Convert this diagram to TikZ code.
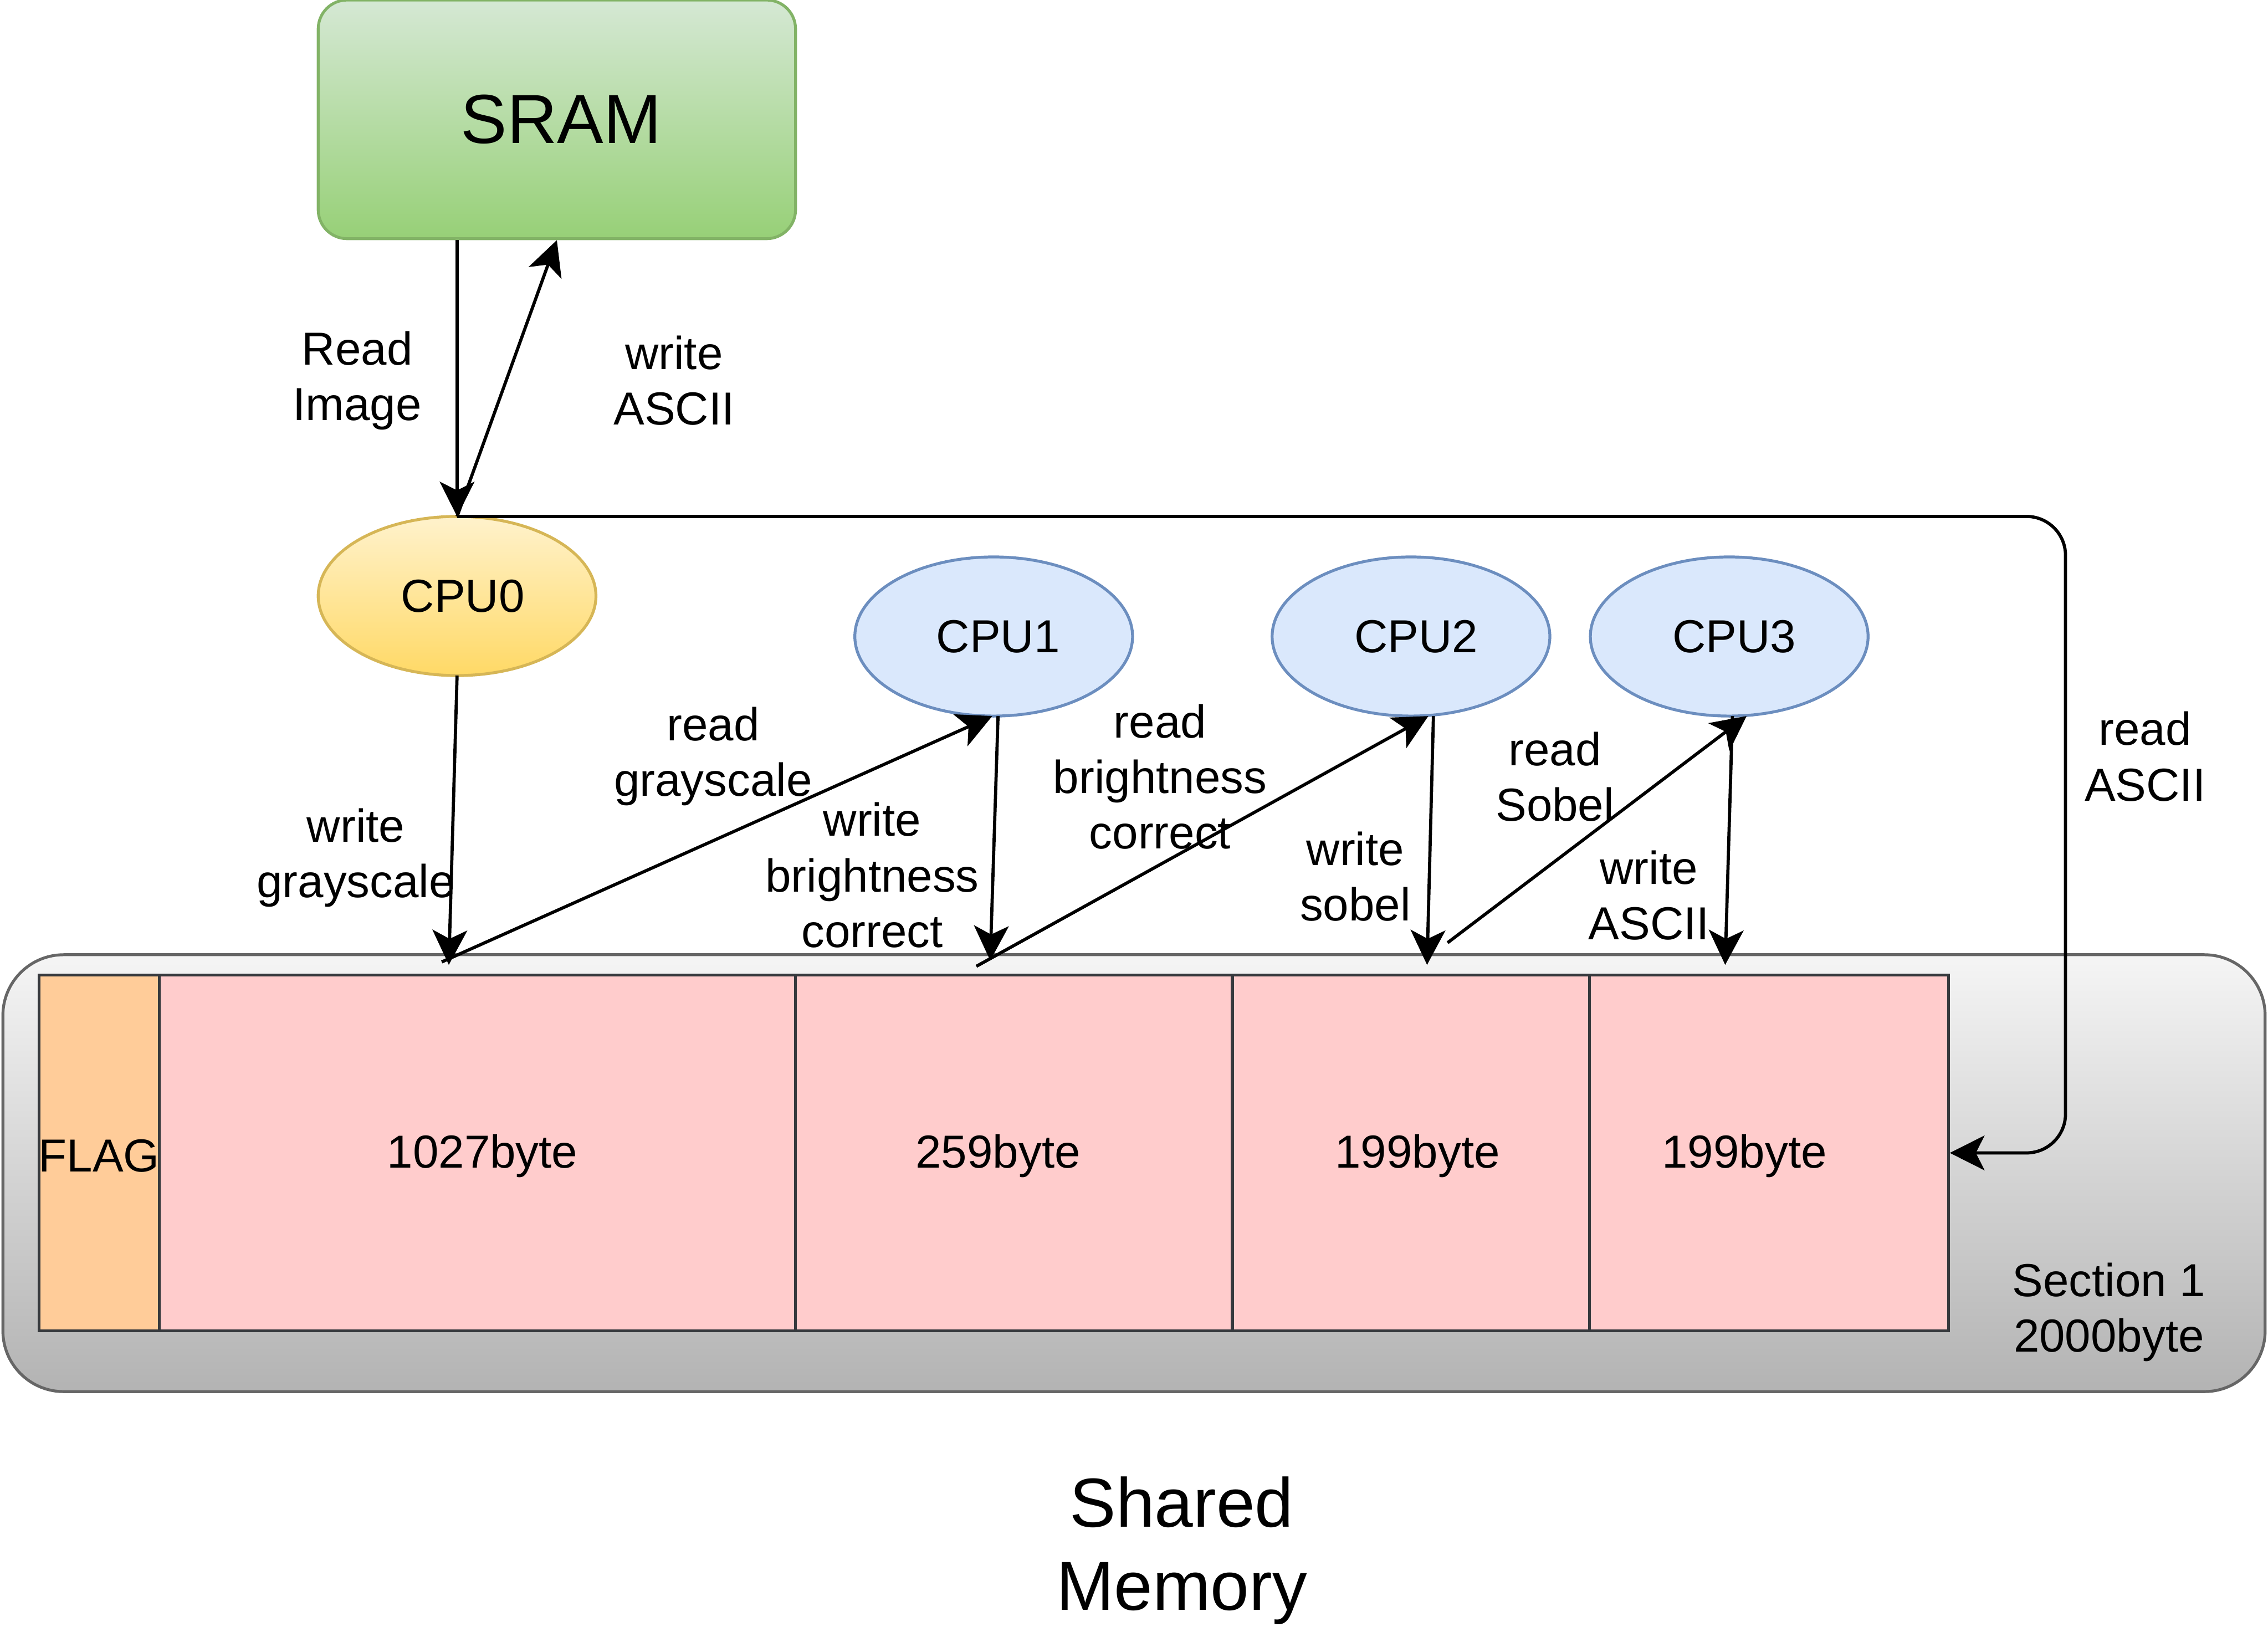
\documentclass[tikz,border=0pt]{standalone}
\usepackage{fontspec}
\setmainfont{Liberation Sans}
\usetikzlibrary{shapes.geometric,arrows.meta,calc}
\definecolor{sramtop}{HTML}{D5E8D4}
\definecolor{srambot}{HTML}{97D077}
\definecolor{sramline}{HTML}{82B366}
\definecolor{cputop}{HTML}{FFF2CC}
\definecolor{cpubot}{HTML}{FFD966}
\definecolor{cpuline}{HTML}{D6B656}
\definecolor{bluefill}{HTML}{DAE8FC}
\definecolor{blueline}{HTML}{6C8EBF}
\definecolor{memtop}{HTML}{F5F5F5}
\definecolor{membot}{HTML}{B3B3B3}
\definecolor{memline}{HTML}{666666}
\definecolor{flagfill}{HTML}{FFCC99}
\definecolor{cellfill}{HTML}{FFCCCC}
\definecolor{cellline}{HTML}{36393D}
\begin{document}
\begin{tikzpicture}[x=1pt,y=-1pt,
  lbl/.style={font=\fontsize{32}{38.4}\selectfont, align=center, inner sep=0pt},
  big/.style={font=\fontsize{48}{57.6}\selectfont, align=center, inner sep=0pt},
  arr/.style={line width=2.2pt, -{Stealth[length=24pt,width=24pt,inset=6pt]}},
  cpuell/.style={ellipse, minimum width=192pt, minimum height=110pt, inner sep=0pt, line width=2pt,
    outer sep=0pt, font=\fontsize{32}{38.4}\selectfont},
  bluecpu/.style={cpuell, draw=blueline, fill=bluefill},
  cell/.style={rectangle, draw=cellline, line width=2pt, minimum height=246pt, inner sep=0pt}
]
\useasboundingbox (0,0) rectangle (1568,1128);

% shared memory container
\node[rectangle, rounded corners=42pt, minimum width=1564pt, minimum height=302pt,
  draw=memline, line width=2pt, top color=memtop, bottom color=membot] (mem) at (784,811) {};

% cells
\node[cell, fill=flagfill, minimum width=83pt] (flag) at (68.5,797) {};
\node[cell, fill=cellfill, minimum width=440pt] (b1) at (330,797) {};
\node[cell, fill=cellfill, minimum width=302pt] (b2) at (701,797) {};
\node[cell, fill=cellfill, minimum width=247pt] (b3) at (975.5,797) {};
\node[cell, fill=cellfill, minimum width=248pt] (b4) at (1223,797) {};

\node[lbl] (tflag) at (68.5,799) {FLAG};
\node[lbl] (t1) at (333.5,799) {1027byte};
\node[lbl] (t2) at (690,799) {259byte};
\node[lbl] (t3) at (980,799) {199byte};
\node[lbl] (t4) at (1206,799) {199byte};
\node[lbl] (tsec) at (1458,907) {Section 1\\2000byte};
\node[big] (tshared) at (817,1072) {Shared\\Memory};

% SRAM
\node[rectangle, rounded corners=20pt, minimum width=330pt, minimum height=165pt,
  draw=sramline, line width=2pt, top color=sramtop, bottom color=srambot,
  font=\fontsize{48}{57.6}\selectfont] (sram) at (385,82.5) {\hspace*{6pt}SRAM};

% CPUs
\node[cpuell, draw=cpuline, top color=cputop, bottom color=cpubot] (cpu0) at (316,412) {\hspace*{8pt}CPU0};
\node[bluecpu] (cpu1) at (687,440) {\hspace*{6pt}CPU1};
\node[bluecpu] (cpu2) at (975.5,440) {\hspace*{7pt}CPU2};
\node[bluecpu] (cpu3) at (1195.5,440) {\hspace*{7pt}CPU3};

% end points on the memory
\coordinate (w0) at (310.3,667);
\coordinate (r1) at (305.4,665);
\coordinate (w1) at (684.6,664);
\coordinate (r2) at (675,668);
\coordinate (w2) at (986.6,667);
\coordinate (r3) at (1000.8,651.7);
\coordinate (w3) at (1192.7,667);
\coordinate (c1in) at ($(cpu1.south)+(-1,0)$);
\coordinate (c1out) at ($(cpu1.south)+(3,0)$);
\coordinate (c2in) at ($(cpu2.south)+(12,0)$);
\coordinate (c2out) at ($(cpu2.south)+(15.5,0)$);
\coordinate (c3in) at ($(cpu3.south)+(12,0)$);
\coordinate (c3out) at ($(cpu3.south)+(2.2,0)$);
\coordinate (bendB) at (1428,797);

% connectors
\draw[arr] (sram.south -| cpu0.north) -- (cpu0.north);
\draw[arr] (cpu0.north) -- (sram.south);
\draw[arr, rounded corners=27pt] (cpu0.north) -- (cpu0.north -| bendB) -- (bendB) -- (b4.east);
\draw[arr] (cpu0.south) -- (w0);
\draw[arr] (r1) -- (c1in);
\draw[arr] (c1out) -- (w1);
\draw[arr] (r2) -- (c2in);
\draw[arr] (c2out) -- (w2);
\draw[arr] (r3) -- (c3in);
\draw[arr] (c3out) -- (w3);

% labels
\node[lbl] (lreadimg) at (247,263) {Read\\Image};
\node[lbl] (lwrascii0) at (466,263) {write\\ASCII};
\node[lbl] (lwrgray) at (246,593) {write\\grayscale};
\node[lbl] (lrdgray) at (493,523) {read\\grayscale};
\node[lbl] (lwrbright) at (603,605) {write\\brightness\\correct};
\node[lbl] (lrdbright) at (802,537) {read\\brightness\\correct};
\node[lbl] (lwrsobel) at (937,606) {write\\sobel};
\node[lbl] (lrdsobel) at (1075,537) {read\\Sobel};
\node[lbl] (lwrascii3) at (1140,619) {write\\ASCII};
\node[lbl] (lrdascii) at (1483,523) {read\\ASCII};
\end{tikzpicture}
\end{document}
